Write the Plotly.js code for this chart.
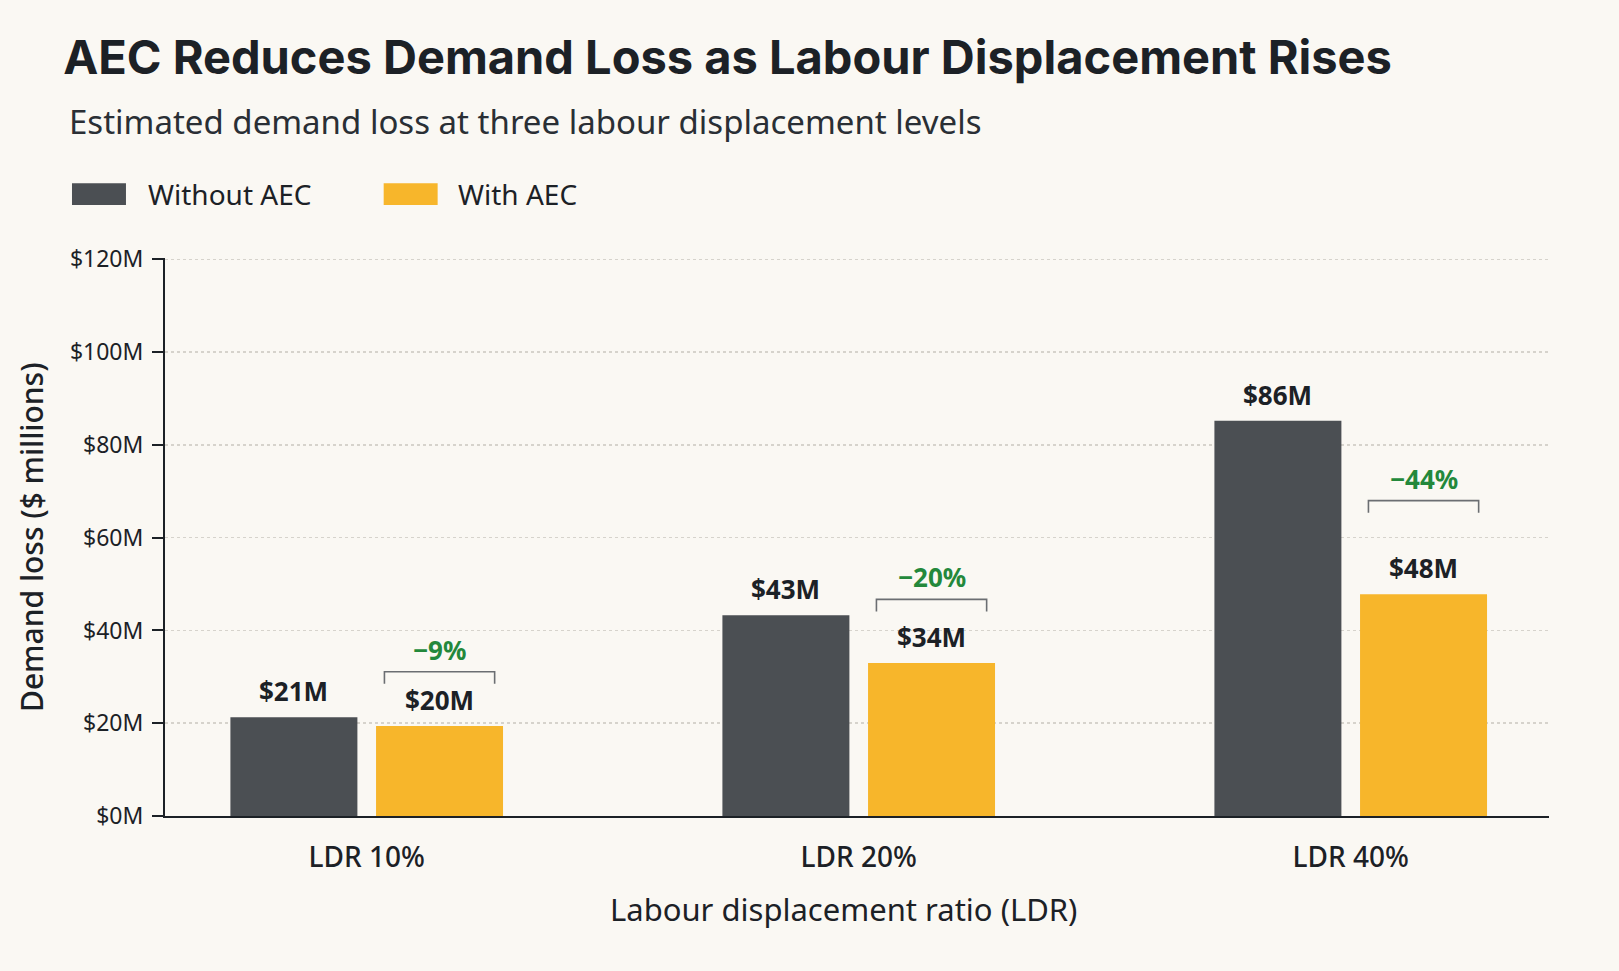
<!DOCTYPE html>
<html>
<head>
<meta charset="utf-8">
<script src="https://cdn.plot.ly/plotly-3.0.1.min.js"></script>
<style>
  html, body { margin: 0; padding: 0; background: #faf8f3; }
  #chart { width: 1619px; height: 971px; }
</style>
</head>
<body>
<div id="chart"></div>
<script>
// data
var categories = ['LDR 10%', 'LDR 20%', 'LDR 40%'];
var withoutAEC = [21.3, 43.3, 85.2];
var withAEC = [19.4, 33.0, 47.8];
var withoutLabels = ['$21M', '$43M', '$86M'];
var withLabels = ['$20M', '$34M', '$48M'];
var changeLabels = ['\u22129%', '\u221220%', '\u221244%'];
var yTicks = [0, 20, 40, 60, 80, 100, 120];

// where the bracket sits above each "With AEC" bar (data units)
var bracketLevel = [31.1, 46.7, 68.0];

var darkColor = '#4b4f53';
var yellowColor = '#f7b62b';
var inkColor = '#1c2126';
var greenColor = '#23883b';
var bodyFont = 'Noto Sans, Open Sans, sans-serif';

var traces = [
  {
    type: 'bar', name: 'Without AEC', x: categories, y: withoutAEC,
    marker: { color: darkColor }, hoverinfo: 'skip'
  },
  {
    type: 'bar', name: 'With AEC', x: categories, y: withAEC,
    marker: { color: yellowColor }, hoverinfo: 'skip'
  }
];

// bar centre offsets inside a group (bargap / bargroupgap below)
var bargap = 0.408;
var slot = (1 - bargap) / 2;
var halfBracket = 0.112;
var tickDrop = 2.6;

var annotations = [];
var shapes = [];

categories.forEach(function (c, i) {
  annotations.push({
    x: i - slot / 2, y: withoutAEC[i], xref: 'x', yref: 'y',
    text: withoutLabels[i], showarrow: false, yanchor: 'bottom', yshift: 6,
    font: { family: bodyFont, size: 26, color: inkColor, weight: 700 }
  });
  annotations.push({
    x: i + slot / 2, y: withAEC[i], xref: 'x', yref: 'y',
    text: withLabels[i], showarrow: false, yanchor: 'bottom', yshift: 6,
    font: { family: bodyFont, size: 26, color: inkColor, weight: 700 }
  });
  annotations.push({
    x: i + slot / 2, y: bracketLevel[i], xref: 'x', yref: 'y',
    text: changeLabels[i], showarrow: false, yanchor: 'bottom', yshift: 2,
    font: { family: bodyFont, size: 26, color: greenColor, weight: 700 }
  });
  var x0 = i + slot / 2 - halfBracket;
  var x1 = i + slot / 2 + halfBracket;
  var b = bracketLevel[i];
  shapes.push({
    type: 'path', xref: 'x', yref: 'y',
    path: 'M ' + x0 + ',' + (b - tickDrop) + ' L ' + x0 + ',' + b +
          ' L ' + x1 + ',' + b + ' L ' + x1 + ',' + (b - tickDrop),
    line: { color: '#6b6e72', width: 1.6 }
  });
});

// custom legend
shapes.push({ type: 'rect', xref: 'paper', yref: 'paper',
  x0: -0.0672, x1: -0.0282, y0: 1.095, y1: 1.134,
  fillcolor: darkColor, line: { width: 0 } });
shapes.push({ type: 'rect', xref: 'paper', yref: 'paper',
  x0: 0.158, x1: 0.197, y0: 1.095, y1: 1.134,
  fillcolor: yellowColor, line: { width: 0 } });
annotations.push({ xref: 'paper', yref: 'paper', x: -0.0135, y: 1.1145,
  xanchor: 'left', yanchor: 'middle', showarrow: false, text: traces[0].name,
  font: { family: bodyFont, size: 28, color: inkColor } });
annotations.push({ xref: 'paper', yref: 'paper', x: 0.2105, y: 1.1145,
  xanchor: 'left', yanchor: 'middle', showarrow: false, text: traces[1].name,
  font: { family: bodyFont, size: 28, color: inkColor } });

// subtitle and axis titles
annotations.push({ xref: 'paper', yref: 'paper', x: -0.071, y: 1.2455,
  xanchor: 'left', yanchor: 'middle', showarrow: false,
  text: 'Estimated demand loss at three labour displacement levels',
  font: { family: bodyFont, size: 33, color: '#2a2f35' } });
annotations.push({ xref: 'paper', yref: 'paper', x: -0.0968, y: 0.5,
  xanchor: 'center', yanchor: 'middle', showarrow: false, textangle: -90,
  text: 'Demand loss ($ millions)',
  font: { family: bodyFont, size: 30, color: inkColor, weight: 500 } });
annotations.push({ xref: 'paper', yref: 'paper', x: 0.49, y: -0.1667,
  xanchor: 'center', yanchor: 'middle', showarrow: false,
  text: 'Labour displacement ratio (LDR)',
  font: { family: bodyFont, size: 31, color: inkColor } });

var layout = {
  width: 1619,
  height: 971,
  paper_bgcolor: '#faf8f3',
  plot_bgcolor: '#faf8f3',
  margin: { l: 165, r: 70, t: 258, b: 155 },
  showlegend: false,
  title: {
    text: 'AEC Reduces Demand Loss as Labour Displacement Rises',
    x: 0.039, xanchor: 'left', y: 0.941, yanchor: 'middle',
    font: { family: 'Inter, Noto Sans, sans-serif', size: 47, color: inkColor, weight: 700 }
  },
  barmode: 'group',
  bargap: bargap,
  bargroupgap: 0.128,
  xaxis: {
    type: 'category',
    range: [-0.41, 2.403],
    showline: true, linecolor: inkColor, linewidth: 2,
    ticks: '', showgrid: false, zeroline: false,
    ticklabelstandoff: 15,
    tickfont: { family: bodyFont, size: 28, color: inkColor, weight: 500 }
  },
  yaxis: {
    range: [0, 120.3],
    tickvals: yTicks,
    ticktext: yTicks.map(function (v) { return '$' + v + 'M'; }),
    showline: true, linecolor: inkColor, linewidth: 2,
    ticks: 'outside', ticklen: 11, tickwidth: 2, tickcolor: inkColor,
    ticklabelstandoff: 4,
    showgrid: true, gridcolor: '#d6d3cc', gridwidth: 1.5, griddash: 'dot',
    zeroline: false,
    tickfont: { family: bodyFont, size: 23, color: inkColor }
  },
  annotations: annotations,
  shapes: shapes
};

Plotly.newPlot('chart', traces, layout, { displayModeBar: false, staticPlot: true });
</script>
</body>
</html>
